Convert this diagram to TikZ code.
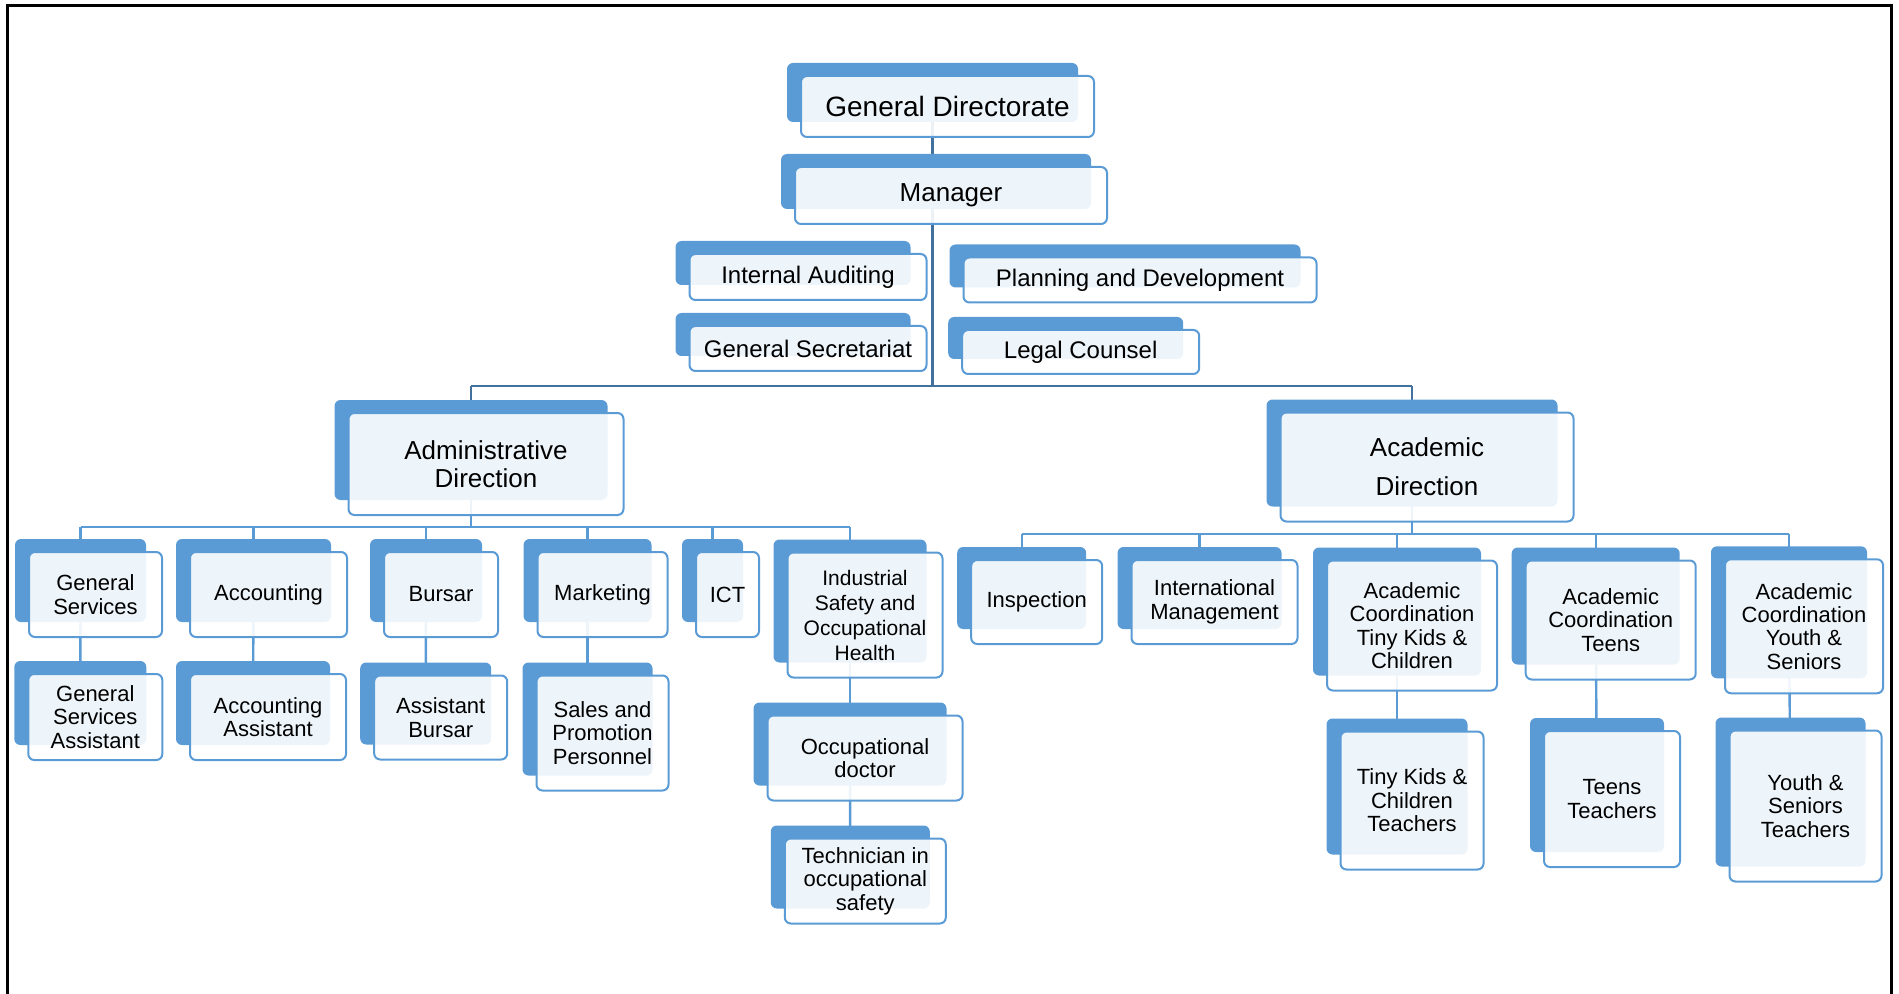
\documentclass[tikz,border=0pt]{standalone}
\usepackage{fontspec}
\setmainfont{Liberation Sans}
\usetikzlibrary{calc}
\definecolor{boxblue}{HTML}{5B9BD5}
\definecolor{topline}{HTML}{41719C}
\pgfdeclarelayer{lines}
\pgfdeclarelayer{shadow}
\pgfsetlayers{lines,shadow,main}
\tikzset{
  unitbox/.style={draw=boxblue, line width=1pt, rounded corners=3pt, fill=white,
    fill opacity=0.9, text opacity=1, align=center, inner sep=0pt},
  fsbig/.style={font=\fontsize{14}{16}\selectfont},
  fsmid/.style={font=\fontsize{13}{14}\selectfont},
  fsnorm/.style={font=\fontsize{12}{14}\selectfont},
  fssmall/.style={font=\fontsize{11}{11.7}\selectfont},
  link/.style={draw=boxblue, line width=1.2pt},
  toplink/.style={draw=topline, line width=1.2pt}
}
\begin{document}
\begin{tikzpicture}[x=0.5pt, y=-0.5pt]
    \useasboundingbox (0,0) rectangle (1899,994);
    \draw[line width=1.5pt] (7.5,994) -- (7.5,5.5) -- (1891,5.5) -- (1891,994);

    % top
    \node[unitbox, fsbig, minimum width=146.5pt, minimum height=30.5pt] (gd) at (947.5,106.5) {General Directorate};
    \node[unitbox, fsmid, minimum width=156pt, minimum height=28.5pt] (mgr) at (951,195.5) {Manager};
    \node[unitbox, fsnorm, minimum width=118.5pt, minimum height=23pt] (audit) at (808,277) {Internal Auditing};
    \node[unitbox, fsnorm, minimum width=118.5pt, minimum height=22.5pt] (secr) at (808,348.5) {General Secretariat};
    \node[unitbox, fsnorm, minimum width=176.5pt, minimum height=22.5pt] (plan) at (1140,280) {Planning and Development};
    \node[unitbox, fsnorm, minimum width=118.5pt, minimum height=22pt] (legal) at (1080.7,352) {Legal Counsel};

    % directions
    \node[unitbox, font=\fontsize{13}{14}\selectfont, minimum width=137.5pt, minimum height=51pt] (admin) at (486,464)
        {Administrative\\Direction};
    \node[unitbox, font=\fontsize{13}{19.5}\selectfont, minimum width=146.5pt, minimum height=54.5pt] (acad) at (1427,467)
        {Academic\\Direction};

    % administrative side
    \node[unitbox, fssmall, minimum width=66.5pt, minimum height=42.5pt] (gsv) at (95.5,594.5) {General\\Services};
    \node[unitbox, fssmall, minimum width=78.5pt, minimum height=42.5pt] (acct) at (268.5,594.5) {Accounting};
    \node[unitbox, fssmall, minimum width=57pt, minimum height=42.5pt] (bursar) at (441,594.5) {Bursar};
    \node[unitbox, fssmall, minimum width=65pt, minimum height=42.5pt] (mkt) at (602.5,594.5) {Marketing};
    \node[unitbox, fssmall, minimum width=31.5pt, minimum height=42.5pt] (ict) at (727.5,594.5) {ICT};
    \node[unitbox, font=\fontsize{10.5}{12.5}\selectfont, minimum width=77.5pt, minimum height=62.5pt] (ishe) at (865,615)
        {Industrial\\Safety and\\Occupational\\Health};
    \node[unitbox, fssmall, minimum width=67pt, minimum height=43pt] (gsva) at (95.3,717) {General\\Services\\Assistant};
    \node[unitbox, fssmall, minimum width=78pt, minimum height=43pt] (accta) at (268,717) {Accounting\\Assistant};
    \node[unitbox, fssmall, minimum width=66.5pt, minimum height=42pt] (bursa) at (440.7,717.5) {Assistant\\Bursar};
    \node[unitbox, fssmall, minimum width=66pt, minimum height=57.5pt] (sales) at (602.5,733) {Sales and\\Promotion\\Personnel};
    \node[unitbox, fssmall, minimum width=97.5pt, minimum height=42.5pt] (doc) at (865,758) {Occupational\\doctor};
    \node[unitbox, fssmall, minimum width=80.5pt, minimum height=42.5pt] (tech) at (865.3,881) {Technician in\\occupational\\safety};

    % academic side
    \node[unitbox, fssmall, minimum width=65.5pt, minimum height=42pt] (insp) at (1036.7,602) {Inspection};
    \node[unitbox, fssmall, minimum width=83pt, minimum height=42pt] (intl) at (1214.5,602) {International\\Management};
    \node[unitbox, fssmall, minimum width=85pt, minimum height=65pt] (actk) at (1412,625.5)
        {Academic\\Coordination\\Tiny Kids \&\\Children};
    \node[unitbox, fssmall, minimum width=85pt, minimum height=59.5pt] (acte) at (1610.7,620) {Academic\\Coordination\\Teens};
    \node[unitbox, fssmall, minimum width=79pt, minimum height=67pt] (acys) at (1804,626.3)
        {Academic\\Coordination\\Youth \&\\Seniors};
    \node[unitbox, fssmall, minimum width=71.5pt, minimum height=69pt] (tktch) at (1412,800.5) {Tiny Kids \&\\Children\\Teachers};
    \node[unitbox, fssmall, minimum width=68pt, minimum height=68pt] (teentch) at (1612,799) {Teens\\Teachers};
    \node[unitbox, fssmall, minimum width=76pt, minimum height=75.5pt] (ystch) at (1805.5,806) {Youth \&\\Seniors\\Teachers};

    % shadows and anchor points
    \begin{pgfonlayer}{shadow}
    \foreach \n in {gd,mgr,audit,secr,plan,legal,admin,acad,gsv,acct,bursar,mkt,ict,ishe,
        gsva,accta,bursa,sales,doc,tech,insp,intl,actk,acte,acys,tktch,teentch,ystch} {
        \fill[boxblue, rounded corners=3pt] ($(\n.north west)+(-13,-12)$) rectangle ($(\n.south east)+(-17,-16)$);
        \coordinate (\n-b) at ($(\n)+(-15,0)$);
    }
    \end{pgfonlayer}

    \coordinate (topbus) at (0,386);
    \coordinate (lbus) at (0,527);
    \coordinate (rbus) at (0,534);

    \begin{pgfonlayer}{lines}
    \draw[toplink] (gd-b) -- (gd-b |- topbus);
    \draw[toplink] (admin-b |- topbus) -- (acad-b |- topbus);
    \draw[toplink] (admin-b) -- (admin-b |- topbus);
    \draw[toplink] (acad-b) -- (acad-b |- topbus);

    \draw[link] (admin-b) -- (admin-b |- lbus);
    \draw[link] (gsv-b |- lbus) -- (ishe-b |- lbus);
    \foreach \n in {gsv,acct,bursar,mkt,ict,ishe}
        \draw[link] (\n-b) -- (\n-b |- lbus);
    \draw[link] (gsv-b) -- (gsva-b);
    \draw[link] (acct-b) -- (accta-b);
    \draw[link] (bursar-b) -- (bursa-b);
    \draw[link] (mkt-b) -- (sales-b);
    \draw[link] (ishe-b) -- (doc-b);
    \draw[link] (doc-b) -- (tech-b);

    \draw[link] (acad-b) -- (acad-b |- rbus);
    \draw[link] (insp-b |- rbus) -- (acys-b |- rbus);
    \foreach \n in {insp,intl,actk,acte,acys}
        \draw[link] (\n-b) -- (\n-b |- rbus);
    \draw[link] (actk-b) -- (tktch-b);
    \draw[link] (acte-b) -- (teentch-b);
    \draw[link] (acys-b) -- (ystch-b);
    \end{pgfonlayer}
\end{tikzpicture}
\end{document}
